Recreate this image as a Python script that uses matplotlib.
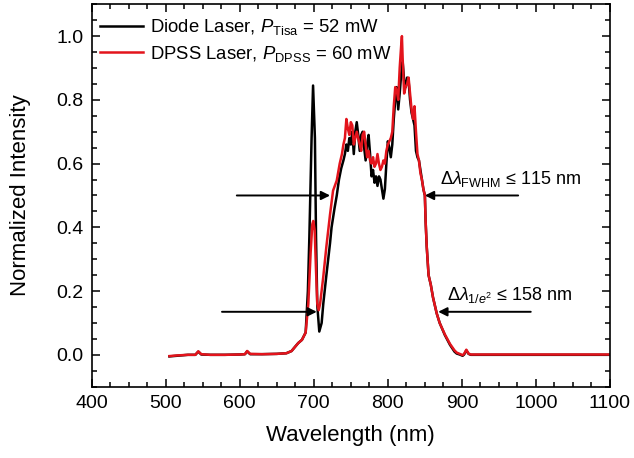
import matplotlib
matplotlib.use("Agg")
import matplotlib.pyplot as plt
from matplotlib.ticker import MultipleLocator, FormatStrFormatter

plt.rcParams['font.family'] = ['Liberation Sans', 'DejaVu Sans']
plt.rcParams['mathtext.fontset'] = 'custom'
plt.rcParams['mathtext.rm'] = 'Liberation Sans'
plt.rcParams['mathtext.it'] = 'Liberation Sans:italic'
plt.rcParams['mathtext.bf'] = 'Liberation Sans:bold'

# Diode-pumped Ti:Sa spectrum (normalized)
wl_diode = [505, 515, 530, 540, 544, 548, 560, 580, 600, 607, 610, 614, 630, 650,
            663, 670, 675, 679, 684, 689, 692, 694, 697, 699, 701.5, 703, 704.7,
            707.4, 710.6, 712.8, 717, 721.9, 724, 728, 731, 734, 737, 740, 742,
            744, 746, 748, 750, 752, 754, 756, 758, 760, 762, 764, 766, 768, 770,
            772, 774, 776, 778, 780, 782, 784, 786, 788, 790, 792, 794, 796, 798,
            800, 802, 804, 806, 808, 810, 812, 814, 816, 818, 820, 822, 824, 826,
            828, 830, 832, 834, 836, 838, 840, 842, 844, 846, 848, 850, 851, 852.5,
            855, 856.5, 858, 861, 866, 870, 877, 884, 890, 893, 897, 901, 903, 906,
            909, 912, 920, 950, 1000, 1050, 1100]
int_diode = [-0.005, -0.003, 0.0, 0.0, 0.010, 0.001, 0.0, 0.0, 0.001, 0.002, 0.011,
             0.002, 0.002, 0.003, 0.005, 0.012, 0.026, 0.037, 0.047, 0.07, 0.20,
             0.37, 0.68, 0.845, 0.68, 0.37, 0.155, 0.073, 0.10, 0.16, 0.25, 0.35,
             0.40, 0.46, 0.50, 0.55, 0.585, 0.61, 0.63, 0.66, 0.64, 0.68, 0.66, 0.70,
             0.63, 0.70, 0.73, 0.69, 0.64, 0.69, 0.70, 0.65, 0.61, 0.66, 0.69, 0.63,
             0.56, 0.58, 0.54, 0.56, 0.53, 0.56, 0.55, 0.52, 0.49, 0.52, 0.60, 0.67,
             0.65, 0.62, 0.66, 0.74, 0.80, 0.84, 0.77, 0.82, 0.88, 0.92, 0.86, 0.84,
             0.87, 0.86, 0.80, 0.76, 0.74, 0.72, 0.64, 0.62, 0.61, 0.58, 0.55, 0.52,
             0.50, 0.42, 0.34, 0.25, 0.235, 0.22, 0.18, 0.13, 0.10, 0.062, 0.031,
             0.010, 0.004, 0.001, -0.003, 0.001, 0.014, 0.003, 0.0, 0.0, 0.0, 0.0,
             0.0, 0.0]

# DPSS-pumped Ti:Sa spectrum (normalized)
wl_dpss = [505, 515, 530, 540, 544, 548, 560, 580, 600, 607, 610, 614, 630, 650,
           663, 670, 675, 679, 684, 689, 692.6, 695.7, 698, 699.3, 701.2, 703,
           704.7, 706.6, 708.5, 712.8, 717, 721.9, 726, 731, 735, 738, 740, 742,
           744, 746, 748, 750, 752, 754, 756, 758, 760, 762, 764, 766, 768, 770,
           772, 774, 776, 778, 780, 782, 784, 786, 788, 790, 792, 794, 796, 798,
           800, 802, 804, 806, 808, 810, 812, 814, 816, 818, 819, 820, 822, 824,
           826, 828, 830, 832, 834, 836, 838, 840, 842, 844, 846, 848, 850, 851,
           852.5, 855, 856.5, 858, 861, 866, 870, 877, 884, 890, 893, 897, 901,
           903, 906, 909, 912, 920, 950, 1000, 1050, 1100]
int_dpss = [-0.004, -0.002, 0.0, 0.0, 0.011, 0.002, 0.0, 0.0, 0.001, 0.002, 0.012,
            0.003, 0.002, 0.003, 0.005, 0.012, 0.026, 0.037, 0.047, 0.07, 0.16,
            0.32, 0.41, 0.42, 0.39, 0.265, 0.16, 0.14, 0.16, 0.245, 0.34, 0.44,
            0.515, 0.547, 0.60, 0.63, 0.66, 0.68, 0.74, 0.71, 0.69, 0.73, 0.72,
            0.66, 0.68, 0.70, 0.68, 0.66, 0.64, 0.69, 0.70, 0.66, 0.62, 0.64, 0.61,
            0.60, 0.62, 0.59, 0.60, 0.63, 0.60, 0.58, 0.59, 0.61, 0.60, 0.64, 0.66,
            0.67, 0.68, 0.70, 0.78, 0.84, 0.83, 0.80, 0.90, 0.97, 1.00, 0.93, 0.82,
            0.84, 0.85, 0.87, 0.82, 0.77, 0.74, 0.78, 0.70, 0.63, 0.61, 0.57, 0.55,
            0.52, 0.50, 0.42, 0.34, 0.25, 0.235, 0.22, 0.18, 0.13, 0.10, 0.064,
            0.034, 0.014, 0.007, 0.003, -0.001, 0.003, 0.016, 0.004, 0.001, 0.001,
            0.001, 0.001, 0.001, 0.001]

label_diode = r"Diode Laser, $\mathit{P}_{\mathrm{Tisa}}$ = 52 mW"
label_dpss = r"DPSS Laser, $\mathit{P}_{\mathrm{DPSS}}$ = 60 mW"

# Bandwidth markers: (tail x, tip x) at a given level
fwhm_level = 0.5
fwhm_left = (596, 722)
fwhm_right = (976, 850)
e2_level = 0.135
e2_left = (576, 704)
e2_right = (993, 868)
fwhm_text = r"$\mathit{\Delta\lambda}_{\mathrm{FWHM}}$ ≤ 115 nm"
e2_text = r"$\mathit{\Delta\lambda}_{1/e^2}$ ≤ 158 nm"

fig = plt.figure(figsize=(6.34, 4.58), dpi=100)
ax = fig.add_axes([0.1446, 0.1557, 0.8175, 0.835])

ax.plot(wl_diode, int_diode, color='black', lw=1.8, label=label_diode)
ax.plot(wl_dpss, int_dpss, color='#e3141c', lw=1.8, label=label_dpss)

arrow_kw = dict(arrowstyle='-|>', color='black', lw=1.4, mutation_scale=13,
                shrinkA=0, shrinkB=0)
for (tail, tip), lvl in [(fwhm_left, fwhm_level), (fwhm_right, fwhm_level),
                         (e2_left, e2_level), (e2_right, e2_level)]:
    ax.annotate('', xy=(tip, lvl), xytext=(tail, lvl), arrowprops=arrow_kw)

ax.text(870, 0.537, fwhm_text, fontsize=13, ha='left', va='baseline')
ax.text(880, 0.172, e2_text, fontsize=13, ha='left', va='baseline')

ax.set_xlim(400, 1100)
ax.set_ylim(-0.1, 1.1)
ax.xaxis.set_major_locator(MultipleLocator(100))
ax.xaxis.set_minor_locator(MultipleLocator(25))
ax.yaxis.set_major_locator(MultipleLocator(0.2))
ax.yaxis.set_minor_locator(MultipleLocator(0.05))
ax.yaxis.set_major_formatter(FormatStrFormatter('%.1f'))
ax.tick_params(which='both', direction='in', top=True, right=True, width=1.1,
               labelsize=14)
ax.tick_params(which='major', length=6, pad=6)
ax.tick_params(which='minor', length=3.5)
for s in ax.spines.values():
    s.set_linewidth(1.2)

ax.set_xlabel('Wavelength (nm)', fontsize=16, labelpad=9)
ax.set_ylabel('Normalized Intensity', fontsize=16, labelpad=18)

leg = ax.legend(loc='upper left', bbox_to_anchor=(0.009, 0.976), frameon=False,
                fontsize=13.3, handlelength=2.3, handletextpad=0.4,
                labelspacing=0.35, borderaxespad=0.0, borderpad=0.2)

fig.savefig('out.png', dpi=100)
